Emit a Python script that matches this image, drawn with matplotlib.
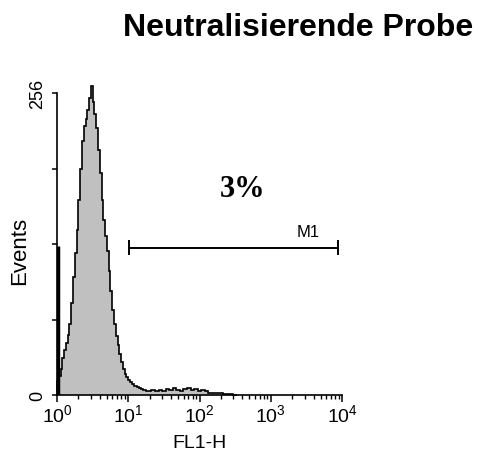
"""
FACS histogram: Neutralisierende Probe (FL1-H)
"""
import matplotlib
matplotlib.use('Agg')
import matplotlib.pyplot as plt
import numpy as np

plt.rcParams['font.family'] = 'Liberation Sans'
plt.rcParams['mathtext.fontset'] = 'custom'
plt.rcParams['mathtext.rm'] = 'Liberation Sans'
plt.rcParams['mathtext.it'] = 'Liberation Sans:italic'
plt.rcParams['mathtext.default'] = 'regular'

# main peak: bins of 0.025 decade starting at 10^0
PEAK_BIN = 0.025
peak_counts = [12, 16, 22, 31, 38, 44, 51, 60, 78, 100,
               120, 140, 165, 192, 215, 228, 234, 242, 252, 262,
               248, 238, 226, 208, 188, 165, 148, 135, 122, 105,
               88, 72, 60, 50, 42, 35, 28, 22, 18, 15,
               13, 11, 9, 8, 8, 7, 6, 5, 4, 4,
               3]
# tail: bins of 0.05 decade following the peak
TAIL_BIN = 0.05
tail_counts = [3, 4, 3, 4, 3, 5, 4, 6, 4, 3,
               5, 6, 4, 5, 3, 4, 3, 2, 2, 2,
               2, 1, 1, 1, 0]
first_channel = 126          # pile-up in channel 1

# marker M1
gate_lo, gate_hi = 10 ** 1.01, 10 ** 3.94
gate_y = 125
gate_pct = '3%'

peak_edges = np.arange(len(peak_counts) + 1) * PEAK_BIN
tail_edges = peak_edges[-1] + np.arange(1, len(tail_counts) + 1) * TAIL_BIN
edges = 10 ** np.concatenate([peak_edges, tail_edges])
counts = peak_counts + tail_counts

fig = plt.figure(figsize=(4.79, 4.52), dpi=100)
ax = fig.add_axes([57 / 479, 56 / 452, 285 / 479, 302 / 452])

ax.stairs(counts, edges, fill=True, color='#c0c0c0', clip_on=False)
ax.stairs(counts, edges, color='black', linewidth=1.2, clip_on=False)
ax.vlines(1.03, 0, first_channel, color='black', linewidth=2.5)

# gate marker
ax.plot([gate_lo, gate_hi], [gate_y, gate_y], color='black', linewidth=1.4)
ax.vlines([gate_lo, gate_hi], gate_y - 6, gate_y + 6, color='black', linewidth=1.4)
ax.text(10 ** 3.52, gate_y + 14, 'M1', ha='center', va='center', fontsize=12)
ax.text(10 ** 2.61, 175, gate_pct, ha='center', va='center', fontsize=22,
        fontweight='bold', family='Liberation Serif')

ax.set_xscale('log')
ax.set_xlim(1, 1e4)
ax.set_ylim(0, 256)

for s in ['top', 'right']:
    ax.spines[s].set_visible(False)
for s in ['left', 'bottom']:
    ax.spines[s].set_linewidth(1.2)

ax.set_xticks([1, 10, 100, 1000, 10000])
ax.set_xticklabels(['$10^{0}$', '$10^{1}$', '$10^{2}$', '$10^{3}$', '$10^{4}$'], fontsize=14)
ax.tick_params(axis='x', which='major', length=5, width=1.1, pad=1)
ax.tick_params(axis='x', which='minor', length=3, width=1.0)

ax.set_yticks([0, 256])
ax.set_yticklabels(['0', '256'], rotation=90, va='center', fontsize=13)
ax.set_yticks([64, 128, 192], minor=True)
ax.tick_params(axis='y', which='both', length=3.5, width=1.1, pad=4.5)

fig.text(20 / 479, 1 - 251 / 452, 'Events', rotation=90, ha='center', va='center',
         fontsize=16)
fig.text(199 / 479, 1 - 444 / 452, 'FL1-H', ha='center', va='center', fontsize=14)
fig.text(298 / 479, 1 - 36 / 452, 'Neutralisierende Probe', ha='center',
         va='baseline', fontsize=23, fontweight='bold')

plt.savefig('out.png', dpi=100)
